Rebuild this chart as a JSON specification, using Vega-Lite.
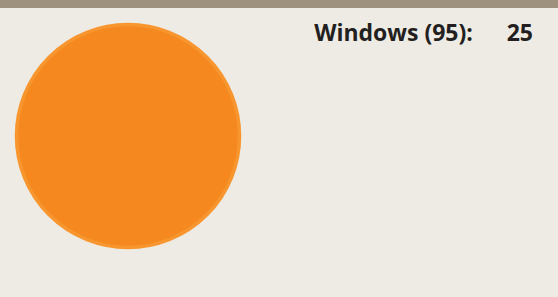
{
  "$schema": "https://vega.github.io/schema/vega-lite/v6.json",
  "padding": 0,
  "background": "#eeebe5",
  "spacing": 0,
  "bounds": "flush",
  "config": {"view": {"stroke": null}, "concat": {"spacing": 0}},
  "datasets": {
    "os": [{"label": "Windows", "count": 95, "value": 25}],
    "deco": [{"part": "band"}]
  },
  "vconcat": [
    {
      "width": 558,
      "height": 8,
      "view": {"fill": "#9e917e", "stroke": null},
      "data": {"name": "deco"},
      "mark": {"type": "point", "opacity": 0},
      "encoding": {}
    },
    {
      "spacing": 0,
      "bounds": "flush",
      "hconcat": [
        {
          "width": 256,
          "height": 256,
          "data": {"name": "os"},
          "mark": {"type": "arc", "outerRadius": 111.5, "fill": "#f5881f", "stroke": "#f7962f", "strokeWidth": 3.5},
          "encoding": {"theta": {"field": "value", "type": "quantitative"}}
        },
        {
          "width": 275,
          "height": 66,
          "data": {"name": "os"},
          "mark": {"type": "text", "font": "Open Sans", "fontWeight": "bold", "fontSize": 23, "color": "#231f20", "align": "center", "baseline": "alphabetic"},
          "encoding": {"text": {"value": "Windows (95):"}}
        },
        {
          "width": 4,
          "height": 66,
          "data": {"name": "os"},
          "mark": {"type": "text", "font": "Open Sans", "fontWeight": "bold", "fontSize": 23, "color": "#231f20", "align": "right", "baseline": "alphabetic"},
          "encoding": {"text": {"field": "value", "type": "quantitative"}}
        },
        {
          "width": 23,
          "height": 289,
          "data": {"name": "deco"},
          "mark": {"type": "point", "opacity": 0},
          "encoding": {}
        }
      ]
    }
  ]
}
